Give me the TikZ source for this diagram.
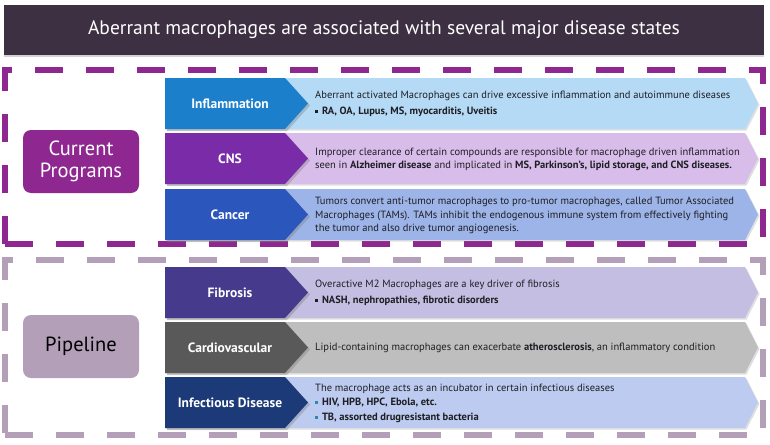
\documentclass[tikz,border=0pt]{standalone}
\usepackage{fontspec}
\setmainfont{PT Sans}
\usepackage{tikz}
\usetikzlibrary{positioning,shadows}
\definecolor{mctitle}{HTML}{3D3042}
\definecolor{mcpurple}{HTML}{8E278F}
\definecolor{mcmauve}{HTML}{B3A0B8}
\definecolor{mctext}{HTML}{1E1E24}
\definecolor{inflD}{HTML}{1C7FCC}
\definecolor{inflL}{HTML}{B5DAF6}
\definecolor{cnsD}{HTML}{7A2BA8}
\definecolor{cnsL}{HTML}{D8BCE9}
\definecolor{cancD}{HTML}{2B56BC}
\definecolor{cancL}{HTML}{9DB4E8}
\definecolor{fibD}{HTML}{463A8C}
\definecolor{fibL}{HTML}{C4BFE2}
\definecolor{cardD}{HTML}{595959}
\definecolor{cardL}{HTML}{BEBEBE}
\definecolor{infD}{HTML}{1D3A78}
\definecolor{infL}{HTML}{BCCBEF}
\definecolor{infB}{HTML}{2A8CA8}
\newcommand{\sqb}[1][mctext]{\textcolor{#1}{\rule[1.4pt]{2.8pt}{2.8pt}}\hspace{4pt}}

\begin{document}
\begin{tikzpicture}[
    x=1pt,
    y=-1pt,
    titlebar/.style={rectangle, fill=mctitle, text=white, minimum width=760pt, minimum height=50pt, font=\fontsize{19.5}{22}\selectfont, drop shadow={shadow xshift=0pt, shadow yshift=-2pt, opacity=0.35}},
    frame/.style={rectangle, line width=5.5pt, dash pattern=on 28pt off 23pt, inner sep=0pt},
    progbox/.style={rectangle, rounded corners=8pt, minimum width=116pt, minimum height=63pt, align=center, font=\fontsize{20.5}{25}\selectfont, inner sep=0pt},
    darkarrow/.style={drop shadow={shadow xshift=2pt, shadow yshift=-2pt, opacity=0.4}},
    lightarrow/.style={drop shadow={shadow xshift=1.5pt, shadow yshift=-1.5pt, opacity=0.25}},
    rowlabel/.style={text=white, font=\bfseries\fontsize{13.5}{15}\selectfont, inner sep=0pt},
    rowtext/.style={anchor=west, align=left, text=mctext, font=\fontsize{10.5}{13.5}\selectfont, inner sep=0pt}
  ]
    \useasboundingbox (0,0) rectangle (770,444);

    \node[titlebar] (title) at (384,30) {Aberrant macrophages are associated with several major disease states};

    \node[frame, draw=mcpurple, minimum width=758pt, minimum height=174pt] (current) at (384,157) {};
    \node[frame, draw=mcmauve, minimum width=758pt, minimum height=175pt] (pipe) at (384,347.5) {};

    \node[progbox, fill=mcpurple, text=white] (curprog) at (81,161.5) {Current\\[-3pt]Programs};
    \node[progbox, fill=mcmauve, text=black] (pipeprog) at (81,346.5) {Pipeline};

    \fill[inflL, lightarrow] (165,78) -- (745,78) -- (758,103.5) -- (745,129) -- (165,129) -- cycle;
    \fill[inflD, darkarrow] (165,78) -- (285,78) -- (308,103.5) -- (285,129) -- (165,129) -- cycle;
    \node[rowlabel] (infl) at (230,103.5) {Inflammation};
    \node[rowtext] (infltxt) at (315,104) {Aberrant activated Macrophages can drive excessive inflammation and autoimmune diseases\\[2pt]\sqb\textbf{RA, OA, Lupus, MS, myocarditis, Uveitis}};

    \fill[cnsL, lightarrow] (165,133) -- (745,133) -- (758,158.5) -- (745,184) -- (165,184) -- cycle;
    \fill[cnsD, darkarrow] (165,133) -- (285,133) -- (308,158.5) -- (285,184) -- (165,184) -- cycle;
    \node[rowlabel] (cns) at (230,158.5) {CNS};
    \node[rowtext] (cnstxt) at (315,159.5) {Improper clearance of certain compounds are responsible for macrophage driven inflammation\\seen in \textbf{Alzheimer disease} and implicated in \textbf{MS, Parkinson’s, lipid storage, and CNS diseases.}};

    \fill[cancL, lightarrow] (165,189) -- (745,189) -- (758,214.5) -- (745,240) -- (165,240) -- cycle;
    \fill[cancD, darkarrow] (165,189) -- (285,189) -- (308,214.5) -- (285,240) -- (165,240) -- cycle;
    \node[rowlabel] (canc) at (230,214.5) {Cancer};
    \node[rowtext] (canctxt) at (315,215.5) {Tumors convert anti-tumor macrophages to pro-tumor macrophages, called Tumor Associated\\Macrophages (TAMs). TAMs inhibit the endogenous immune system from effectively fighting\\the tumor and also drive tumor angiogenesis.};

    \fill[fibL, lightarrow] (165,267) -- (745,267) -- (758,292.5) -- (745,318) -- (165,318) -- cycle;
    \fill[fibD, darkarrow] (165,267) -- (285,267) -- (308,292.5) -- (285,318) -- (165,318) -- cycle;
    \node[rowlabel] (fib) at (230,292.5) {Fibrosis};
    \node[rowtext] (fibtxt) at (315,293) {Overactive M2 Macrophages are a key driver of fibrosis\\[2pt]\sqb\textbf{NASH, nephropathies, fibrotic disorders}};

    \fill[cardL, lightarrow] (165,322) -- (745,322) -- (758,347.5) -- (745,373) -- (165,373) -- cycle;
    \fill[cardD, darkarrow] (165,322) -- (285,322) -- (308,347.5) -- (285,373) -- (165,373) -- cycle;
    \node[rowlabel] (card) at (230,347.5) {Cardiovascular};
    \node[rowtext] (cardtxt) at (315,348) {Lipid-containing macrophages can exacerbate \textbf{atherosclerosis}, an inflammatory condition};

    \fill[infL, lightarrow] (165,377) -- (745,377) -- (758,402.5) -- (745,428) -- (165,428) -- cycle;
    \fill[infD, darkarrow] (165,377) -- (285,377) -- (308,402.5) -- (285,428) -- (165,428) -- cycle;
    \node[rowlabel] (inf) at (230,402.5) {Infectious Disease};
    \node[rowtext] (inftxt) at (315,403) {The macrophage acts as an incubator in certain infectious diseases\\[1pt]\sqb[infB]\textbf{HIV, HPB, HPC, Ebola, etc.}\\[1pt]\sqb[infB]\textbf{TB, assorted drugresistant bacteria}};
  \end{tikzpicture}
\end{document}
